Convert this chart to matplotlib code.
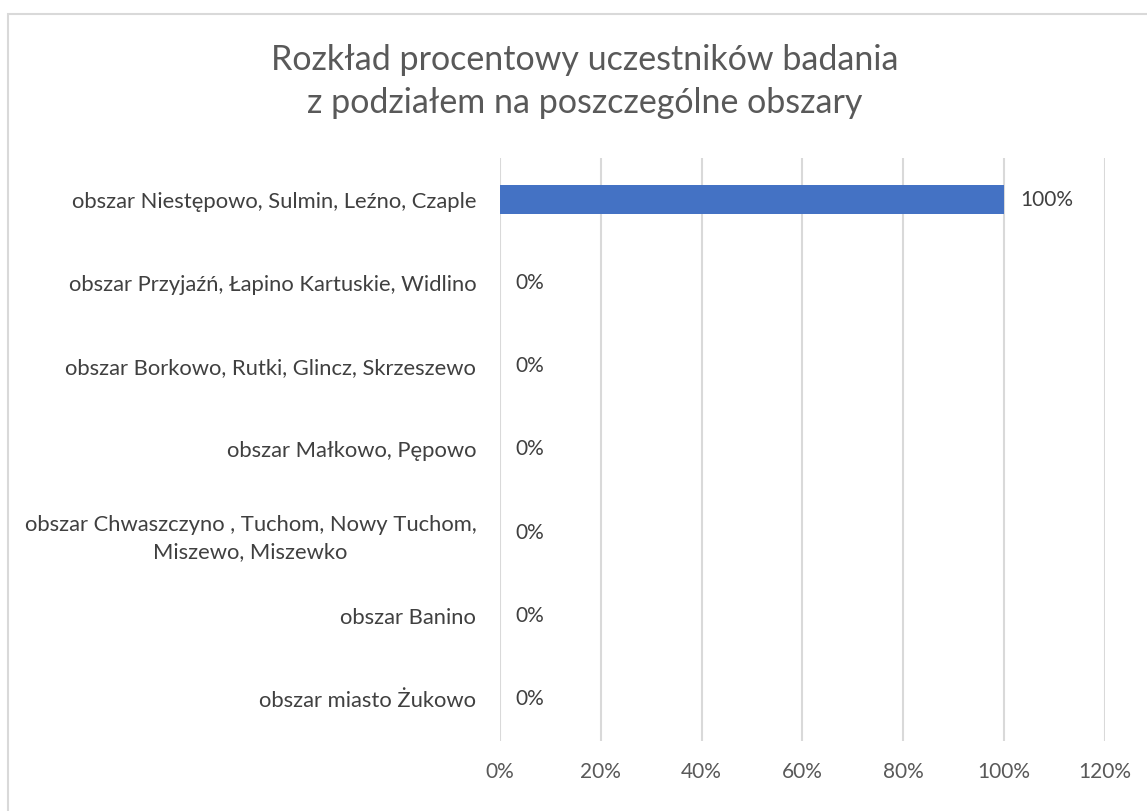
import matplotlib.pyplot as plt
from matplotlib.patches import Rectangle

# Chart data
categories = [
    'obszar Niestępowo, Sulmin, Leźno, Czaple',
    'obszar Przyjaźń, Łapino Kartuskie, Widlino',
    'obszar Borkowo, Rutki, Glincz, Skrzeszewo',
    'obszar Małkowo, Pępowo',
    'obszar Chwaszczyno , Tuchom, Nowy Tuchom,\nMiszewo, Miszewko',
    'obszar Banino',
    'obszar miasto Żukowo',
]
shares = [100, 0, 0, 0, 0, 0, 0]  # percent
x_ticks = [0, 20, 40, 60, 80, 100, 120]

plt.rcParams['font.family'] = ['Lato', 'DejaVu Sans']

fig = plt.figure(figsize=(11.47, 8.11), dpi=100)
ax = fig.add_axes([0.4359, 0.0863, 0.5275, 0.7189])

# chart border like an Excel chart area
fig.patches.append(Rectangle((8 / 1147, -0.1), 1.2, 1 - 14 / 811 + 0.1,
                             transform=fig.transFigure, fill=False,
                             edgecolor='#d9d9d9', linewidth=1.5))

y = list(range(len(categories)))
ax.barh(y, shares, height=0.35, color='#4472c4', zorder=3)

for yi, v in zip(y, shares):
    ax.text(v + 3.1, yi, f'{v}%', va='center', ha='left',
            fontsize=15, color='#404040')

ax.set_xlim(0, 120)
ax.set_ylim(len(categories) - 0.5, -0.5)
ax.set_xticks(x_ticks)
ax.set_xticklabels([f'{t}%' for t in x_ticks], fontsize=15, color='#595959')
ax.set_yticks(y)
ax.set_yticklabels(categories, fontsize=15.8, color='#404040',
                   multialignment='center', linespacing=1.45)
ax.tick_params(axis='both', length=0)
ax.tick_params(axis='x', pad=15)
ax.tick_params(axis='y', pad=17)
ax.grid(axis='x', color='#d9d9d9', linewidth=1.5, zorder=0)
for s in ax.spines.values():
    s.set_visible(False)

fig.text(0.51, 0.899, 'Rozkład procentowy uczestników badania\nz podziałem na poszczególne obszary',
         ha='center', va='center', fontsize=24.5, color='#595959', linespacing=1.42)

fig.savefig('out.png', dpi=100)
